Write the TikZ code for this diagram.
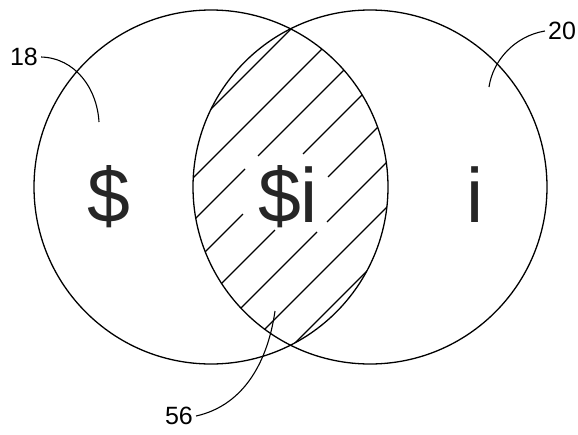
\documentclass[tikz,border=0pt]{standalone}
\usepackage{fontspec}
\setmainfont{Liberation Sans}
\usetikzlibrary{positioning}

\begin{document}
\begin{tikzpicture}[x=1pt,y=-1pt,
  ring/.style={draw,line width=1.3pt},
  hatch/.style={line width=1.3pt},
  lead/.style={line width=1.1pt},
  ref/.style={font=\fontsize{25}{25}\selectfont,inner sep=3pt},
  bigsym/.style={font=\fontsize{77}{77}\selectfont,text=black!85,inner sep=0pt,anchor=base}]
\useasboundingbox (0,0) rectangle (578,434);
\coordinate (cL) at (211,187);
\coordinate (cR) at (370,187);
\draw[ring] (cL) circle (177pt);
\draw[ring] (cR) circle (177pt);
% hatched overlap, broken round the text
\begin{scope}
  \clip (cL) circle (177pt);
  \clip (cR) circle (177pt);
  \draw[hatch] (180,140)--(400,-80);
  \draw[hatch] (180,191)--(400,-29);
  \draw[hatch] (180,234)--(245,169); \draw[hatch] (258,156)--(400,14);
  \draw[hatch] (180,277)--(243,214); \draw[hatch] (303,154)--(400,57);
  \draw[hatch] (180,325)--(275,230); \draw[hatch] (328,177)--(400,105);
  \draw[hatch] (180,369)--(317,232); \draw[hatch] (327,222)--(400,149);
  \draw[hatch] (180,414)--(400,194);
  \draw[hatch] (180,458)--(400,238);
\end{scope}
\node[bigsym] (dol) at (109,222) {\$};
\node[bigsym] (both) at (288,222) {\$i};
\node[bigsym] (int) at (475,222) {i};
% reference numerals
\node[ref] (l18) at (24,57) {18};
\node[ref] (l20) at (562,31) {20};
\node[ref] (l56) at (179,416) {56};
\coordinate (p18) at (99,122);
\coordinate (p20) at (489,87);
\coordinate (p56) at (275,311);
\draw[lead] (l18.east) .. controls (75,58) and (97,88) .. (p18);
\draw[lead] (l20.west) .. controls (515,36) and (493,60) .. (p20);
\draw[lead] (l56.east) .. controls (245,405) and (268,360) .. (p56);
\end{tikzpicture}
\end{document}
